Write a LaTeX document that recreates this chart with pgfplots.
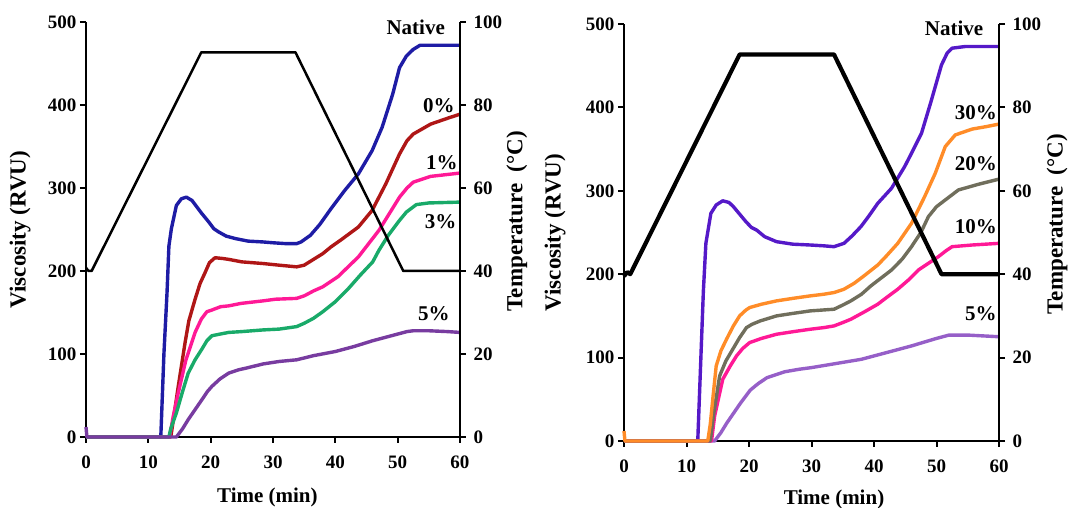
\documentclass[border=0pt]{standalone}
\usepackage{fontspec}
\setmainfont{Liberation Serif}
\usepackage{pgfplots}
\pgfplotsset{compat=1.18}

\definecolor{cNatL}{RGB}{30,28,165}
\definecolor{cRed}{RGB}{175,22,22}
\definecolor{cPink}{RGB}{255,25,150}
\definecolor{cGreen}{RGB}{25,170,105}
\definecolor{cPurL}{RGB}{120,60,160}
\definecolor{cNatR}{RGB}{85,25,200}
\definecolor{cOrange}{RGB}{255,140,40}
\definecolor{cGray}{RGB}{112,110,92}
\definecolor{cLav}{RGB}{150,95,200}

\tikzset{
  pct/.style={font=\fontsize{21}{21}\selectfont\bfseries, anchor=center},
  curve/.style={line width=3.4pt, line join=round},
}
\pgfplotsset{
  common/.style={
    scale only axis, xmin=0, xmax=60,
    tick align=outside, major tick length=6pt,
    every tick/.style={line width=2pt, black},
    axis line style={line width=2pt},
    ticklabel style={font=\fontsize{19}{19}\selectfont\bfseries},
    /pgf/number format/assume math mode=true,
    label style={font=\fontsize{23}{23}\selectfont\bfseries},
    clip=false,
  },
  visc/.style={common,
    ymin=0, ymax=500,
    axis x line*=bottom, axis y line*=left,
    xtick={0,10,...,60}, ytick={0,100,...,500},
    xticklabel shift=9pt,
    xlabel={Time (min)}, ylabel={Viscosity (RVU)},
    xlabel style={font=\fontsize{21}{21}\selectfont\bfseries},
  },
  temp/.style={common,
    ymin=0, ymax=100,
    axis x line=none, axis y line*=right,
    ytick={0,20,...,100},
    yticklabel shift=4pt,
    ylabel={Temperature\ \ (°C)},
  },
}

\begin{document}
\begin{tikzpicture}
\useasboundingbox (0,0) rectangle (1070pt,508pt);

% ---------------- Left panel ----------------
\begin{axis}[visc, at={(86pt,71pt)}, anchor=south west, width=374pt, height=415pt,
  xlabel style={at={(axis description cs:0.485,-0.145)}, anchor=center},
  ylabel style={at={(axis description cs:-0.176,0.5)}, anchor=center}]
\addplot[curve, no marks, cNatL] coordinates {(0,0)(12.0,0)(12.1,20)(12.5,100)(13,174)(13.3,230)(13.7,251)(14.5,279)(15.3,287)(16.1,289)(17,285)(17.5,280)(18.5,270)(19.7,259)(20.5,251)(21.3,247)(22.5,242)(24,239)(26,236)(28.4,235)(30,234)(32,233)(33.8,233)(34.5,235)(36,243)(37.5,256)(39.3,275)(41.5,297)(43.7,317)(45.9,345)(47.5,373)(49.2,413)(50.3,445)(51.4,459)(52.5,467)(53.6,472)(60,472)};
\addplot[curve, no marks, cRed] coordinates {(0,0)(13.6,0)(14.0,20)(14.8,61)(15.9,114)(16.5,140)(17.5,166)(18.3,185)(19.1,198)(19.8,210)(20.7,216)(22,215)(22.9,214)(25,211)(28.4,209)(31,207)(33.8,205)(35,207)(36.5,214)(38,221)(39.3,229)(41,238)(43.7,253)(45.9,273)(48.1,305)(50.3,341)(51.5,357)(52.5,365)(55.3,377)(58,384)(60,389)};
\addplot[curve, no marks, cPink] coordinates {(0,0)(13.4,0)(14,25)(14.8,53)(16,92)(17.5,126)(18.5,142)(19.4,151)(20.2,153)(21.6,157)(22.9,158)(24.9,161)(28.4,164)(30.4,166)(33.8,167)(35,170)(36.5,176)(38,181)(40.4,193)(43.7,217)(47,249)(50.3,289)(51.5,300)(52.5,307)(55.3,314)(60,318)};
\addplot[curve, no marks, cGreen] coordinates {(0,0)(13.3,0)(13.6,10)(14.5,29)(15.5,55)(16.4,77)(17.5,93)(18.6,106)(19.4,116)(20.2,122)(21.5,124)(22.9,126)(25,127)(28.4,129)(31,130)(33.8,133)(35,137)(36.5,143)(38,151)(40,163)(42,178)(44,195)(46,211)(47,225)(48.5,243)(50.3,261)(51.4,271)(53,280)(55,282)(60,283)};
\addplot[curve, no marks, cPurL] coordinates {(0,12)(0.15,0)(14.5,0)(15.5,10)(16.4,21)(17.5,33)(18.6,45)(19.5,55)(20.2,61)(21.5,70)(22.9,77)(24.5,81)(25.7,83)(28.4,88)(31,91)(33.8,93)(36.5,98)(40,103)(43,109)(46,116)(48,120)(50,124)(51.5,127)(52.5,128)(55,128)(58,127)(60,126)};
\node[pct] at (axis cs:52.9,493) {Native};
\node[pct] at (axis cs:56.6,399) {0\%};
\node[pct] at (axis cs:57.1,331) {1\%};
\node[pct] at (axis cs:56.9,259) {3\%};
\node[pct] at (axis cs:55.8,149) {5\%};
\end{axis}
\begin{axis}[temp, at={(86pt,71pt)}, anchor=south west, width=374pt, height=415pt,
  ylabel style={at={(axis description cs:1.152,0.52)}, anchor=center}]
\addplot[line width=2.5pt, black, no marks, line join=round] coordinates {(0,40.8)(0.4,40)(0.9,40)(18.5,92.7)(33.6,92.7)(50.9,40)(60,40)};
\end{axis}

% ---------------- Right panel ----------------
\begin{axis}[visc, at={(624pt,67pt)}, anchor=south west, width=375pt, height=417pt,
  xlabel style={at={(axis description cs:0.56,-0.14)}, anchor=center},
  ylabel style={at={(axis description cs:-0.184,0.5)}, anchor=center}]
\addplot[curve, no marks, cNatR] coordinates {(0,0)(11.8,0)(11.9,20)(12.3,100)(12.7,180)(13.1,237)(13.9,273)(14.75,283)(15.8,288)(16.8,286)(17.5,281)(18.5,272)(19.5,263)(20.4,256)(21.2,253)(22.5,245)(24.4,239)(27,236)(29.8,235)(32,234)(33.6,233)(35.2,237)(36.5,246)(37.9,257)(39.2,270)(40.6,285)(42.8,303)(44.9,329)(46,345)(47.6,369)(49.2,409)(50.8,451)(51.7,465)(52.5,471)(54.6,473)(60,473)};
\addplot[curve, no marks, cLav] coordinates {(0,0)(14.5,0)(15.5,10)(16.4,21)(17.5,33)(18.6,45)(20.2,61)(21.5,69)(22.9,76)(25.7,83)(28,86)(30,88)(34,93)(38,98)(42,106)(46,114)(50,123)(52,127)(55,127)(60,125)};
\addplot[curve, no marks, cPink] coordinates {(0,0)(14,0)(14.5,30)(15.8,74)(17,90)(18,102)(19,111)(20.1,118)(22,123)(24.4,128)(27,131)(29.8,134)(32,136)(33.6,138)(35,142)(36.3,146)(38.5,155)(40.6,164)(42,172)(43.8,182)(45.5,193)(47.1,205)(48.7,213)(50.3,221)(51.5,228)(52.5,233)(55.7,235)(60,237)};
\addplot[curve, no marks, cGray] coordinates {(0,0)(13.8,0)(14.3,30)(15.3,78)(16.3,96)(17.4,110)(18.5,124)(19.6,136)(20.5,140)(21.8,144)(24.4,150)(27,153)(29.8,156)(33.6,158)(35,163)(36.3,168)(38,176)(39.5,186)(42.8,205)(44.5,218)(46,233)(47.5,250)(48.7,269)(50,281)(51.4,289)(53.5,301)(56.8,308)(60,314)};
\addplot[curve, no marks, cOrange] coordinates {(0,12)(0.15,0)(13.4,0)(13.8,20)(14.2,50)(14.75,90)(15.5,108)(16.4,122)(17.5,138)(18.5,150)(19.5,157)(20.1,160)(22,164)(24.4,168)(27,171)(29.8,174)(32,176)(33.6,178)(35.2,182)(36.8,189)(38.4,198)(40.6,211)(42,222)(43.8,237)(46,261)(48.1,293)(49.8,321)(51.4,353)(53,367)(55.7,374)(58,377)(60,380)};
\node[pct] at (axis cs:52.8,495) {Native};
\node[pct] at (axis cs:56.3,394) {30\%};
\node[pct] at (axis cs:56.3,333) {20\%};
\node[pct] at (axis cs:56.3,257) {10\%};
\node[pct] at (axis cs:57.1,153) {5\%};
\end{axis}
\begin{axis}[temp, at={(624pt,67pt)}, anchor=south west, width=375pt, height=417pt,
  ylabel style={at={(axis description cs:1.155,0.52)}, anchor=center}]
\addplot[line width=4.2pt, black, no marks, line join=round] coordinates {(0,39.5)(0.5,40.5)(1,40)(18.5,92.7)(33.6,92.7)(50.8,40)(60,40)};
\end{axis}
\end{tikzpicture}
\end{document}
